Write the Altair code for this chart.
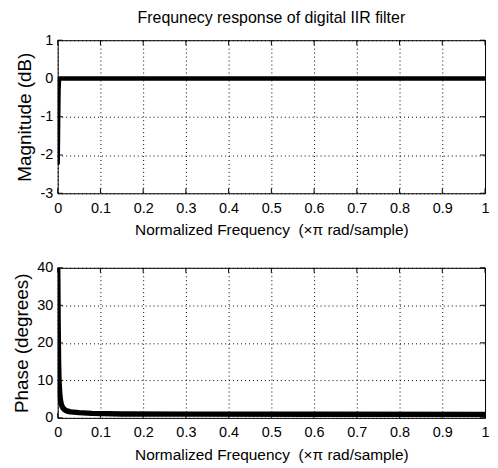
import altair as alt
import pandas as pd

# ---- data ----
freq_mag = [0.0, 0.001, 0.002, 0.003, 0.005, 0.01, 0.05, 0.2, 0.5, 1.0]
mag_db = [-2.25, -1.2, -0.3, -0.05, 0.0, 0.0, 0.0, 0.0, 0.0, 0.0]

freq_ph = [0.0, 0.001, 0.002, 0.003, 0.005, 0.007, 0.009, 0.012, 0.016,
           0.02, 0.03, 0.05, 0.08, 0.15, 0.3, 0.6, 1.0]
phase_deg = [40.0, 25.0, 15.0, 10.0, 6.0, 4.3, 3.4, 2.7, 2.2,
             1.9, 1.6, 1.4, 1.2, 1.05, 1.0, 0.95, 0.9]

x_ticks = [0, 0.1, 0.2, 0.3, 0.4, 0.5, 0.6, 0.7, 0.8, 0.9, 1]
mag_ticks = [-3, -2, -1, 0, 1]
ph_ticks = [0, 10, 20, 30, 40]

TITLE = "Frequnecy response of digital IIR filter"
XTITLE = "Normalized Frequency \u00a0(\u00d7\u03c0 rad/sample)"

FONT = "Liberation Sans"
W = 430
H1 = 154
H2 = 151
TICK = 5


def panel(freq, vals, ydomain, yticks, ytitle, H, lw):
    df = pd.DataFrame({"f": freq, "v": vals})
    xs = alt.Scale(domain=[0, 1], nice=False, zero=False)
    ys = alt.Scale(domain=ydomain, nice=False, zero=False)
    common = dict(grid=True, ticks=False, domain=False, labelFlush=False,
                  labelFont=FONT, titleFont=FONT, titleFontWeight="normal",
                  labelColor="black", titleColor="black", gridColor="black",
                  gridOpacity=1, gridDash=[1, 3], gridWidth=1,
                  labelExpr="'' + datum.value", labelFontSize=14.5)
    xax = alt.Axis(values=x_ticks, title=XTITLE, labelPadding=8,
                   titlePadding=8, titleFontSize=15.5, **common)
    yax = alt.Axis(values=yticks, title=ytitle, labelPadding=5,
                   titlePadding=5, titleFontSize=19, **common)
    x = alt.X("f:Q", scale=xs, axis=xax)
    y = alt.Y("v:Q", scale=ys, axis=yax)

    line = alt.Chart(df).mark_line(color="black", strokeWidth=lw,
                                   strokeJoin="round", clip=True).encode(x=x, y=y)

    xt = pd.DataFrame({"f": x_ticks})
    yt = pd.DataFrame({"v": yticks})
    tb = alt.Chart(xt).mark_rule(color="black", strokeWidth=1).encode(
        x=x, y=alt.value(0), y2=alt.value(TICK))
    tt = alt.Chart(xt).mark_rule(color="black", strokeWidth=1).encode(
        x=x, y=alt.value(H - TICK), y2=alt.value(H))
    tl = alt.Chart(yt).mark_rule(color="black", strokeWidth=1).encode(
        y=y, x=alt.value(0), x2=alt.value(TICK))
    tr = alt.Chart(yt).mark_rule(color="black", strokeWidth=1).encode(
        y=y, x=alt.value(W - TICK), x2=alt.value(W))
    return alt.layer(line, tb, tt, tl, tr).properties(width=W, height=H)


top = panel(freq_mag, mag_db, [-3, 1], mag_ticks, "Magnitude (dB)", H1, 4.5).properties(
    title=alt.TitleParams(TITLE, fontSize=16, font=FONT, fontWeight="normal",
                          color="black", offset=6, anchor="middle"))
bottom = panel(freq_ph, phase_deg, [0, 40], ph_ticks, "Phase (degrees)", H2, 5.5)

chart = alt.vconcat(top, bottom, spacing=75, bounds="flush").properties(
    padding={"left": 4, "top": 0, "right": 0, "bottom": 0},
    background="white"
).configure_view(
    stroke="black", strokeWidth=1
)

chart.save("out.html", embed_options={"renderer": "svg", "actions": False})
